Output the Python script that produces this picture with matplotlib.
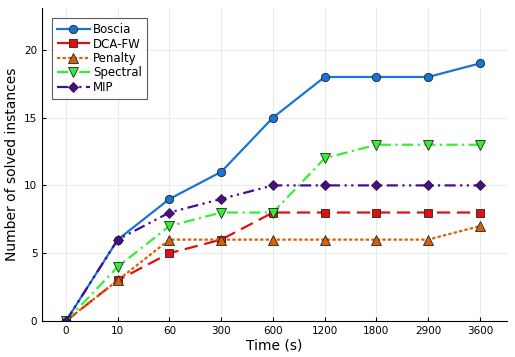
import matplotlib
matplotlib.use("Agg")
import matplotlib.pyplot as plt
import numpy as np

times = ["0", "10", "60", "300", "600", "1200", "1800", "2900", "3600"]
boscia = [0, 6, 9, 11, 15, 18, 18, 18, 19]
dcafw = [0, 3, 5, 6, 8, 8, 8, 8, 8]
penalty = [0, 3, 6, 6, 6, 6, 6, 6, 7]
spectral = [0, 4, 7, 8, 8, 12, 13, 13, 13]
mip = [0, 6, 8, 9, 10, 10, 10, 10, 10]

x = np.arange(len(times))

fig = plt.figure(figsize=(5.15, 3.57), dpi=100)
ax = fig.add_axes([0.082, 0.101, 0.902, 0.877])

styles = [
    ("Boscia", boscia, "#1a74d8", "-", "o", 6),
    ("DCA-FW", dcafw, "#e01010", (0, (6, 3)), "s", 6),
    ("Penalty", penalty, "#d9600a", (0, (1.5, 1)), "^", 6.5),
    ("Spectral", spectral, "#33f033", (0, (5, 2, 1, 2)), "v", 7),
    ("MIP", mip, "#4b0a8f", (0, (5, 2, 1, 2, 1, 2)), "D", 5),
]
for name, vals, col, ls, mk, ms in styles:
    ax.plot(x, vals, color=col, linestyle=ls, linewidth=1.6, marker=mk,
            markersize=ms, markeredgecolor="#222222", markeredgewidth=0.6,
            label=name)

ax.set_xticks(x)
ax.set_xticklabels(times)
ax.set_xlim(-0.46, 8.52)
ax.set_ylim(0, 23.1)
ax.set_yticks([0, 5, 10, 15, 20])
ax.tick_params(labelsize=7.5, length=3, direction="in")
ax.grid(True, color="#e6e6e6", linewidth=0.6)
ax.set_axisbelow(True)
ax.spines["top"].set_visible(False)
ax.spines["right"].set_visible(False)
ax.set_xlabel("Time (s)", fontsize=10, labelpad=2)
ax.set_ylabel("Number of solved instances", fontsize=10, labelpad=4)

leg = ax.legend(loc="upper left", fontsize=8.5, fancybox=False,
                edgecolor="#333333", bbox_to_anchor=(0.008, 0.985),
                handlelength=2.8, borderpad=0.4, labelspacing=0.12,
                handletextpad=0.3)
leg.get_frame().set_linewidth(0.8)

fig.savefig("out.png", dpi=100, facecolor="white")
